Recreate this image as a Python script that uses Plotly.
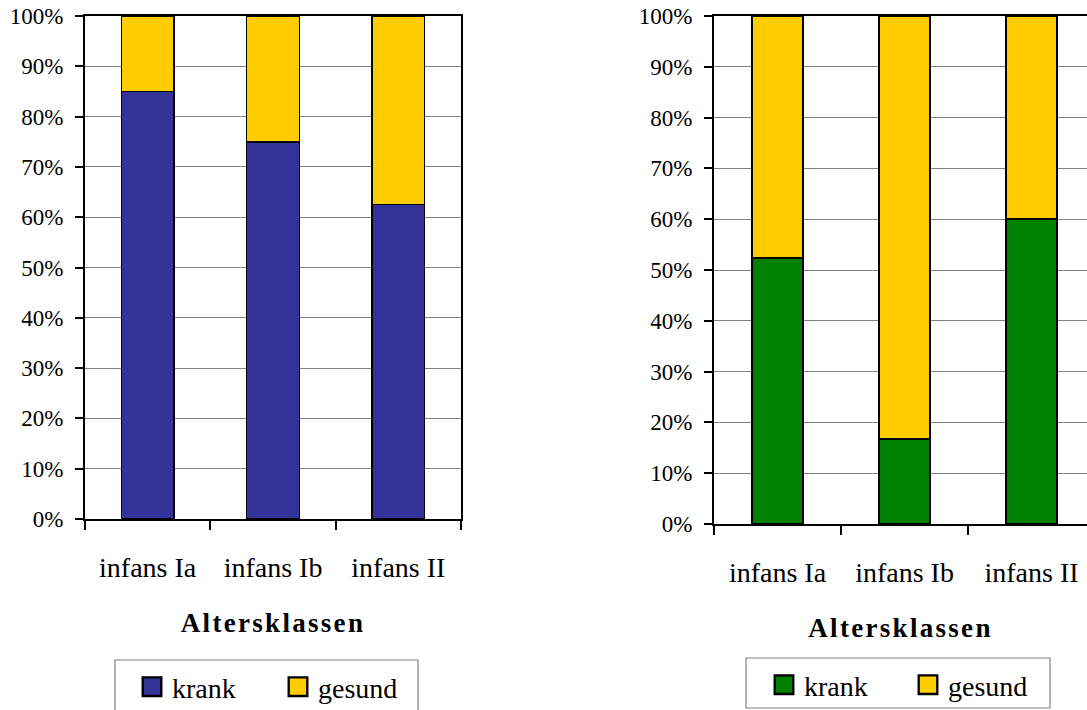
import plotly.graph_objects as go

# Age classes and share of sick / healthy children (percent)
categories = ["infans Ia", "infans Ib", "infans II"]
krank_left = [85.0, 75.0, 62.5]
gesund_left = [15.0, 25.0, 37.5]
krank_right = [52.4, 16.7, 60.0]
gesund_right = [47.6, 83.3, 40.0]

y_ticks = [0, 10, 20, 30, 40, 50, 60, 70, 80, 90, 100]
y_tick_labels = ["0%", "10%", "20%", "30%", "40%", "50%", "60%", "70%", "80%", "90%", "100%"]

W, H = 1087, 710
FONT = "Liberation Serif"
BLUE = "#333399"
GREEN = "#008000"
YELLOW = "#FFCC00"


def px_x(v):
    return v / W


def px_y(v):
    return (H - v) / H


fig = go.Figure()

fig.add_trace(go.Bar(x=categories, y=krank_left, name="krank", xaxis="x", yaxis="y",
                     marker=dict(color=BLUE, line=dict(color="black", width=1.5)),
                     width=0.42, legend="legend"))
fig.add_trace(go.Bar(x=categories, y=gesund_left, name="gesund", xaxis="x", yaxis="y",
                     marker=dict(color=YELLOW, line=dict(color="black", width=1.5)),
                     width=0.42, legend="legend"))
fig.add_trace(go.Bar(x=categories, y=krank_right, name="krank", xaxis="x2", yaxis="y2",
                     marker=dict(color=GREEN, line=dict(color="black", width=1.5)),
                     width=0.4, legend="legend2"))
fig.add_trace(go.Bar(x=categories, y=gesund_right, name="gesund", xaxis="x2", yaxis="y2",
                     marker=dict(color=YELLOW, line=dict(color="black", width=1.5)),
                     width=0.4, legend="legend2"))

fig.update_layout(
    width=W, height=H, margin=dict(l=0, r=0, t=0, b=0, autoexpand=False),
    paper_bgcolor="white", plot_bgcolor="white", barmode="stack", showlegend=True,
    font=dict(family=FONT, color="black"),
    xaxis=dict(domain=[px_x(85), px_x(461)], range=[-0.5, 2.5], anchor="y", mirror=True),
    yaxis=dict(domain=[px_y(519), px_y(16)], anchor="x", mirror=True),
    xaxis2=dict(domain=[px_x(714), 1.0], range=[-0.5, -0.5 + (1087 - 714) / 127.0],
                anchor="y2", mirror=True),
    yaxis2=dict(domain=[px_y(524), px_y(16)], anchor="x2", mirror=False),
    legend=dict(orientation="h", x=px_x(132), y=px_y(687), xanchor="left", yanchor="middle",
                bgcolor="rgba(0,0,0,0)", borderwidth=0, entrywidth=101,
                entrywidthmode="pixels", font=dict(family=FONT, size=28, color="black"),
                traceorder="normal"),
    legend2=dict(orientation="h", x=px_x(764), y=px_y(685), xanchor="left", yanchor="middle",
                 bgcolor="rgba(0,0,0,0)", borderwidth=0, entrywidth=99,
                 entrywidthmode="pixels", font=dict(family=FONT, size=28, color="black"),
                 traceorder="normal"),
    shapes=[
        dict(type="rect", xref="paper", yref="paper", x0=px_x(115), x1=px_x(418),
             y0=px_y(715), y1=px_y(660), line=dict(color="#808080", width=1.2),
             fillcolor="rgba(0,0,0,0)", layer="below"),
        dict(type="rect", xref="paper", yref="paper", x0=px_x(746), x1=px_x(1050),
             y0=px_y(708), y1=px_y(658), line=dict(color="#808080", width=1.2),
             fillcolor="rgba(0,0,0,0)", layer="below"),
    ],
)

# Category axes: ticks on the boundaries between age classes
fig.update_xaxes(
    type="category", showgrid=False, showline=True, linecolor="black", linewidth=2,
    ticks="outside", tickson="boundaries", ticklen=9, tickwidth=1.5, tickcolor="black",
    tickfont=dict(family=FONT, size=28, color="black"), ticklabelstandoff=22,
    title=dict(text="<b>Altersklassen</b>", font=dict(family=FONT, size=27, color="black"),
               standoff=32),
    automargin=False, fixedrange=True,
)

# Percentage axes with grey gridlines
fig.update_yaxes(
    range=[0, 100], tickmode="array", tickvals=y_ticks, ticktext=y_tick_labels,
    showgrid=True, gridcolor="#808080", gridwidth=1, showline=True, linecolor="black",
    linewidth=2, ticks="outside", ticklen=8, tickwidth=1.5, tickcolor="black",
    tickfont=dict(family=FONT, size=23, color="black"), ticklabelstandoff=7,
    zeroline=False, automargin=False, fixedrange=True,
)

# Spaced-out axis titles and larger legend swatches
post = """
var gd = document.getElementById('{plot_id}');
gd.querySelectorAll('.g-xtitle text, .g-x2title text').forEach(function (t) {
  t.style.letterSpacing = '2.3px';
});
gd.querySelectorAll('g.scrollbox').forEach(function (s) {
  s.removeAttribute('clip-path');
});
gd.querySelectorAll('.legendpoints path').forEach(function (p) {
  var tr = p.getAttribute('transform') || '';
  p.setAttribute('transform', tr + ' scale(1.55)');
});
"""

fig.write_html("out.html", post_script=post)
